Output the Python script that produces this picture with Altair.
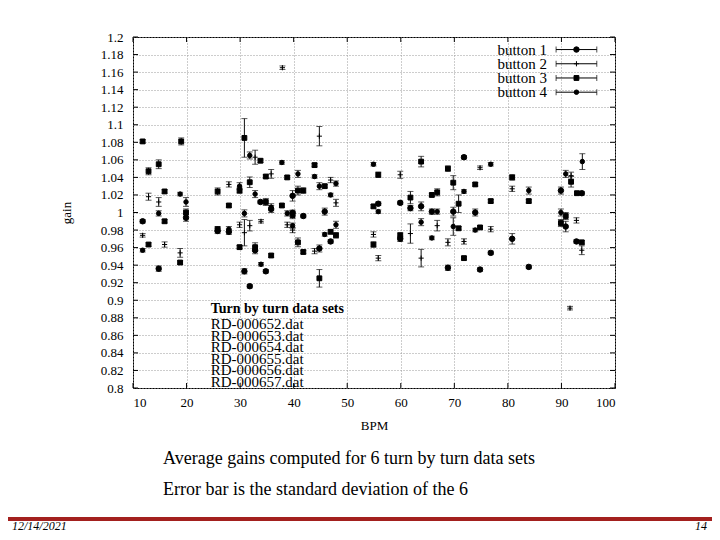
import altair as alt
import pandas as pd

# ---------------- data ----------------
SERIES = ["button 1", "button 2", "button 3", "button 4"]

B1_BPM = [11.8, 14.8, 19.9, 25.8, 27.9, 30.8, 31.8, 32.8, 33.8, 34.8, 35.8, 39.8, 39.8, 41.8,
          44.8, 45.8, 46.9, 55.8, 59.9, 59.9, 61.8, 63.8, 65.8, 68.8, 69.8, 71.8, 73.9, 74.8,
          76.8, 80.8, 83.9, 89.9, 90.8, 92.8, 93.8]
B1_GAIN = [0.990, 0.936, 0.994, 0.979, 0.978, 0.933, 0.916, 0.957, 1.012, 0.933, 1.004, 1.019,
           0.9997, 0.996, 0.959, 1.001, 0.967, 1.010, 1.011, 0.970, 1.005, 1.007, 1.001, 0.937,
           1.001, 1.063, 1.000, 0.935, 0.954, 0.970, 0.938, 1.025, 0.984, 0.967, 1.022]
B1_ERR = [0.002, 0.003, 0.004, 0.003, 0.003, 0.003, 0.002, 0.004, 0.002, 0.002, 0.004, 0.006,
          0.003, 0.002, 0.004, 0.004, 0.002, 0.002, 0.002, 0.003, 0.003, 0.005, 0.003, 0.003,
          0.005, 0.002, 0.004, 0.002, 0.002, 0.006, 0.002, 0.004, 0.006, 0.002, 0.002]

B2_BPM = [12.9, 11.8, 14.8, 15.9, 18.8, 27.9, 29.9, 30.8, 31.8, 32.8, 33.9, 35.8, 37.9, 38.8,
          39.8, 43.9, 44.8, 46.9, 47.9, 54.9, 55.8, 59.9, 61.8, 63.8, 66.8, 68.8, 71.8, 74.8,
          76.8, 80.8, 91.6, 91.8, 92.8, 93.8]
B2_GAIN = [1.018, 0.974, 1.012, 0.9635, 0.954, 1.032, 0.986, 0.977, 0.985, 1.063, 0.990, 1.044,
           1.165, 0.986, 0.980, 0.956, 1.087, 1.037, 1.011, 0.975, 0.948, 1.043, 0.976, 0.948,
           0.985, 0.966, 0.967, 1.051, 0.981, 1.027, 0.891, 1.042, 0.991, 0.957]
B2_ERR = [0.004, 0.002, 0.005, 0.003, 0.005, 0.003, 0.003, 0.015, 0.006, 0.008, 0.002, 0.005,
          0.002, 0.003, 0.003, 0.003, 0.011, 0.003, 0.004, 0.003, 0.003, 0.004, 0.011, 0.010,
          0.006, 0.004, 0.003, 0.002, 0.003, 0.003, 0.002, 0.004, 0.003, 0.005]

B3_BPM = [11.8, 12.9, 12.9, 14.8, 15.9, 15.9, 18.8, 19.0, 19.9, 25.8, 25.8, 27.9, 29.9, 29.9,
          30.8, 31.8, 32.8, 33.8, 34.8, 34.8, 35.8, 37.8, 38.8, 39.8, 40.8, 40.8, 41.8, 41.8,
          43.9, 44.8, 45.8, 46.9, 47.9, 54.9, 54.9, 55.8, 59.9, 61.8, 63.8, 65.8, 66.8, 68.8,
          69.8, 70.8, 70.8, 71.8, 73.9, 74.8, 76.8, 80.8, 83.9, 89.9, 90.8, 91.8, 92.9, 93.8]
B3_GAIN = [1.081, 1.047, 0.9635, 1.055, 1.024, 0.990, 0.943, 1.081, 1.000, 1.024, 0.981, 1.008,
           1.025, 0.9605, 1.085, 1.0345, 0.9605, 1.059, 1.041, 1.012, 0.951, 1.008, 1.040, 0.997,
           1.025, 0.966, 1.025, 0.955, 1.054, 0.925, 1.030, 0.978, 0.974, 1.007, 0.9635, 1.043,
           0.974, 1.017, 1.058, 1.020, 1.023, 1.050, 1.034, 1.010, 0.982, 0.948, 1.032, 0.983,
           1.013, 1.040, 1.013, 0.988, 0.996, 1.035, 1.022, 0.966]
B3_ERR = [0.002, 0.004, 0.002, 0.005, 0.002, 0.002, 0.002, 0.004, 0.004, 0.004, 0.003, 0.002,
          0.003, 0.002, 0.022, 0.006, 0.005, 0.002, 0.002, 0.004, 0.002, 0.002, 0.002, 0.004,
          0.005, 0.005, 0.003, 0.002, 0.002, 0.010, 0.002, 0.002, 0.003, 0.002, 0.003, 0.003,
          0.003, 0.007, 0.006, 0.002, 0.004, 0.003, 0.008, 0.010, 0.002, 0.002, 0.002, 0.002,
          0.002, 0.003, 0.002, 0.004, 0.004, 0.006, 0.002, 0.002]

B4_BPM = [11.8, 14.8, 18.8, 19.9, 27.9, 29.9, 30.8, 31.8, 32.8, 33.9, 35.8, 37.8, 38.8, 39.8,
          40.8, 43.9, 44.8, 45.8, 46.9, 47.9, 47.9, 54.9, 55.8, 63.8, 65.8, 66.8, 69.8, 71.8,
          73.9, 76.8, 83.9, 89.9, 90.8, 93.9]
B4_GAIN = [0.957, 0.999, 1.021, 1.012, 0.981, 1.030, 0.999, 1.065, 1.021, 0.941, 1.006, 1.057,
           0.999, 0.985, 1.044, 1.041, 1.030, 0.975, 1.020, 1.033, 0.986, 1.055, 1.001, 0.989,
           0.971, 1.001, 0.984, 1.024, 0.980, 1.055, 1.025, 1.000, 1.044, 1.058]
B4_ERR = [0.002, 0.003, 0.002, 0.005, 0.003, 0.004, 0.004, 0.004, 0.004, 0.002, 0.004, 0.002,
          0.003, 0.003, 0.004, 0.002, 0.004, 0.002, 0.002, 0.003, 0.004, 0.002, 0.002, 0.004,
          0.002, 0.003, 0.010, 0.002, 0.002, 0.002, 0.004, 0.004, 0.004, 0.009]

X_TICKS = [10, 20, 30, 40, 50, 60, 70, 80, 90, 100]
Y_TICKS = [0.8, 0.82, 0.84, 0.86, 0.88, 0.9, 0.92, 0.94, 0.96, 0.98, 1.0,
           1.02, 1.04, 1.06, 1.08, 1.1, 1.12, 1.14, 1.16, 1.18, 1.2]

NOTE_TITLE = "Turn by turn data sets"
NOTE_FILES = ["RD-000652.dat", "RD-000653.dat", "RD-000654.dat",
              "RD-000655.dat", "RD-000656.dat", "RD-000657.dat"]
CAPTIONS = ["Average gains computed for 6 turn by turn data sets",
            "Error bar is the standard deviation of the 6"]
FOOT_DATE = "12/14/2021"
FOOT_PAGE = "14"

# ---------------- tables ----------------
def frame(name, bpm, gain, err):
    return pd.DataFrame({"series": name, "bpm": bpm, "gain": gain, "err": err})

df = pd.concat([frame(SERIES[0], B1_BPM, B1_GAIN, B1_ERR),
                frame(SERIES[1], B2_BPM, B2_GAIN, B2_ERR),
                frame(SERIES[2], B3_BPM, B3_GAIN, B3_ERR),
                frame(SERIES[3], B4_BPM, B4_GAIN, B4_ERR)], ignore_index=True)

SERIF = "Liberation Serif"
W, H = 482, 351
XS = alt.Scale(domain=[10, 100], nice=False, zero=False)
YS = alt.Scale(domain=[0.8, 1.2], nice=False, zero=False)
XAX = alt.Axis(values=X_TICKS, title="BPM", format="d")
YAX = alt.Axis(values=Y_TICKS, title="gain", format=".6~g")
PLUS = "M-1,0H1M0,-1V1"
SHAPE = alt.Scale(domain=SERIES, range=["circle", PLUS, "square", "circle"])
SIZE = alt.Scale(domain=SERIES, range=[30, 20, 36, 12])


def X(field=None, datum=None):
    if datum is not None:
        return alt.X(datum=datum, scale=XS, axis=XAX)
    return alt.X(field, scale=XS, axis=XAX)


def Y(field=None, datum=None):
    if datum is not None:
        return alt.Y(datum=datum, scale=YS, axis=YAX)
    return alt.Y(field, scale=YS, axis=YAX)


base = alt.Chart(df).transform_calculate(
    lo="datum.gain - datum.err", hi="datum.gain + datum.err")

bars = base.mark_rule(color="#111", strokeWidth=1).encode(x=X("bpm:Q"), y=Y("lo:Q"), y2="hi:Q")
cap_lo = base.mark_tick(orient="horizontal", size=6, thickness=1, color="#111").encode(
    x=X("bpm:Q"), y=Y("lo:Q"))
cap_hi = base.mark_tick(orient="horizontal", size=6, thickness=1, color="#111").encode(
    x=X("bpm:Q"), y=Y("hi:Q"))
points = base.mark_point(filled=True, fill="black", stroke="black", strokeWidth=1,
                         opacity=1).encode(
    x=X("bpm:Q"), y=Y("gain:Q"),
    shape=alt.Shape("series:N", scale=SHAPE, legend=None),
    size=alt.Size("series:N", scale=SIZE, legend=None))

# white key box (hides grid behind the key)
keybox = alt.Chart(pd.DataFrame({"k": [0]})).mark_rect(color="white").encode(
    x=X(datum=74.2), x2=alt.value(W - 1), y=alt.value(1), y2=alt.Y2(datum=1.1105))

# key
leg = alt.Chart(pd.DataFrame({"series": SERIES, "idx": list(range(len(SERIES)))})).transform_calculate(
    ly="1.1857 - 0.0162 * datum.idx")
leg_text = leg.mark_text(align="right", baseline="middle", font=SERIF, fontSize=15,
                         color="black").encode(x=X(datum=87.3), y=Y("ly:Q"), text="series:N")
leg_line = leg.mark_rule(color="black", strokeWidth=1).encode(
    x=X(datum=89.0), x2=alt.X2(datum=96.6), y=Y("ly:Q"))
leg_c1 = leg.mark_tick(orient="vertical", size=6, thickness=1, color="black").encode(
    x=X(datum=89.0), y=Y("ly:Q"))
leg_c2 = leg.mark_tick(orient="vertical", size=6, thickness=1, color="black").encode(
    x=X(datum=96.6), y=Y("ly:Q"))
leg_pt = leg.mark_point(filled=True, fill="black", stroke="black", strokeWidth=1,
                        opacity=1).encode(
    x=X(datum=92.8), y=Y("ly:Q"),
    shape=alt.Shape("series:N", scale=SHAPE, legend=None),
    size=alt.Size("series:N", scale=SIZE, legend=None))

# in-plot note
note_t = alt.Chart(pd.DataFrame({"t": [NOTE_TITLE]})).mark_text(
    align="left", baseline="middle", font=SERIF, fontSize=14, fontWeight="bold",
    color="black").encode(x=X(datum=24.5), y=Y(datum=0.8895), text="t:N")
note_f = alt.Chart(pd.DataFrame({"t": NOTE_FILES, "idx": list(range(len(NOTE_FILES)))})).transform_calculate(
    ny="0.8728 - 0.0132 * datum.idx").mark_text(
    align="left", baseline="middle", font=SERIF, fontSize=15, color="black").encode(
    x=X(datum=24.5), y=Y("ny:Q"), text="t:N")

# inward ticks on all four sides
xt = alt.Chart(pd.DataFrame({"v": X_TICKS}))
yt = alt.Chart(pd.DataFrame({"v": Y_TICKS}))
tk_b = xt.mark_rule(color="black").encode(x=X("v:Q"), y=alt.value(H), y2=alt.value(H - 5))
tk_t = xt.mark_rule(color="black").encode(x=X("v:Q"), y=alt.value(0), y2=alt.value(5))
tk_l = yt.mark_rule(color="black").encode(y=Y("v:Q"), x=alt.value(0), x2=alt.value(5))
tk_r = yt.mark_rule(color="black").encode(y=Y("v:Q"), x=alt.value(W), x2=alt.value(W - 5))

# slide texts
cap_layers = []
for i, line in enumerate(CAPTIONS):
    cap_layers.append(alt.Chart(pd.DataFrame({"t": [line]})).mark_text(
        align="left", baseline="alphabetic", font=SERIF, fontSize=18, color="black").encode(
        x=alt.value(30), y=alt.value(427 + 31 * i), text="t:N"))

red = alt.Chart(pd.DataFrame({"k": [0]})).mark_rule(color="#a3201e", strokeWidth=4).encode(
    x=alt.value(-125), x2=alt.value(W + 97), y=alt.value(482))
foot_d = alt.Chart(pd.DataFrame({"t": [FOOT_DATE]})).mark_text(
    align="left", baseline="alphabetic", font=SERIF, fontSize=12, fontStyle="italic",
    color="black").encode(x=alt.value(-121), y=alt.value(493), text="t:N")
foot_p = alt.Chart(pd.DataFrame({"t": [FOOT_PAGE]})).mark_text(
    align="right", baseline="alphabetic", font=SERIF, fontSize=12, fontStyle="italic",
    color="black").encode(x=alt.value(574), y=alt.value(493), text="t:N")

chart = alt.layer(
    bars, cap_lo, cap_hi, points, keybox,
    leg_text, leg_line, leg_c1, leg_c2, leg_pt,
    note_t, note_f, tk_b, tk_t, tk_l, tk_r,
    *cap_layers, red, foot_d, foot_p
).properties(
    width=W, height=H,
    padding={"left": 125, "top": 29, "right": 97, "bottom": 144},
    autosize=alt.AutoSizeParams(type="none"),
    background="white",
).configure_view(
    stroke="black", strokeWidth=1
).configure_axis(
    labelFont=SERIF, labelFontSize=13, labelColor="black",
    titleFont=SERIF, titleFontSize=13, titleFontWeight="normal", titleColor="black",
    grid=True, gridColor="#9a9a9a", gridDash=[1, 2], gridWidth=1,
    ticks=False, domain=False
).configure_axisX(
    labelPadding=8, titlePadding=10
).configure_axisY(
    labelPadding=10, titlePadding=27
)

chart.save("out.html", embed_options={"renderer": "svg", "actions": False})
